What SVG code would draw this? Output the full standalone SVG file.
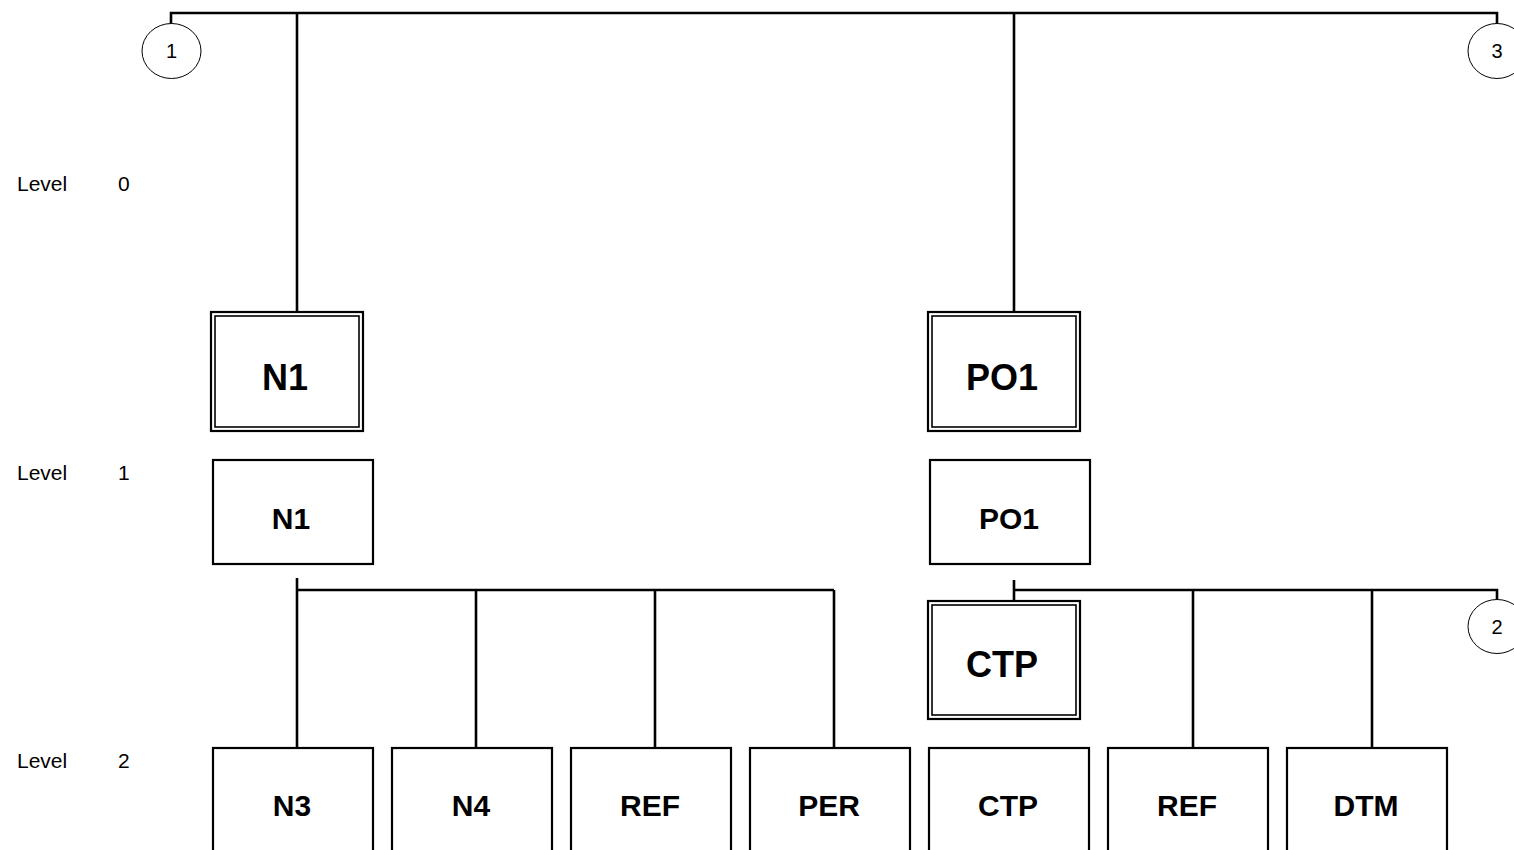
<svg xmlns="http://www.w3.org/2000/svg" width="1514" height="850" viewBox="0 0 1514 850">
<style>
.bg{fill:#fff}
.ln{stroke:#000;stroke-width:2.6;fill:none}
.box{fill:#fff;stroke:#000;stroke-width:2.2}
.inner{fill:none;stroke:#000;stroke-width:1.6}
.circ{fill:#fff;stroke:#000;stroke-width:1}
.big{font-family:"Liberation Sans",Arial,sans-serif;font-weight:bold;font-size:36px;text-anchor:middle;fill:#000}
.mid{font-family:"Liberation Sans",Arial,sans-serif;font-weight:bold;font-size:30px;text-anchor:middle;fill:#000}
.lbl{font-family:"Liberation Sans",Arial,sans-serif;font-size:21px;fill:#000}
.num{font-family:"Liberation Sans",Arial,sans-serif;font-size:20px;text-anchor:middle;fill:#000}
</style>
<rect class="bg" x="0" y="0" width="1514" height="850"/>
<g id="connectors">
  <path class="ln" d="M171,24 V13 H1497 V24"/>
  <path class="ln" d="M297,13 V312"/>
  <path class="ln" d="M1014,13 V312"/>
  <path class="ln" d="M297,578 V748 M297,590 H834 M476,590 V748 M655,590 V748 M834,590 V748"/>
  <path class="ln" d="M1014,580 V601 M1014,590 H1497 V600 M1193,590 V748 M1372,590 V748"/>
</g>
<g id="levels">
  <text class="lbl" x="17" y="191">Level</text><text class="lbl" x="118" y="191">0</text>
  <text class="lbl" x="17" y="480">Level</text><text class="lbl" x="118" y="480">1</text>
  <text class="lbl" x="17" y="768">Level</text><text class="lbl" x="118" y="768">2</text>
</g>
<g id="c1"><ellipse class="circ" cx="171.5" cy="51" rx="29.5" ry="27.5"/><text class="num" x="171.5" y="58">1</text></g>
<g id="c3"><ellipse class="circ" cx="1497" cy="51" rx="29" ry="27.5"/><text class="num" x="1497" y="58">3</text></g>
<g id="c2"><ellipse class="circ" cx="1497" cy="626.5" rx="29" ry="27"/><text class="num" x="1497" y="634">2</text></g>
<g id="n1-0">
  <rect class="box" x="211" y="312" width="152" height="119"/>
  <rect class="inner" x="215" y="316" width="144" height="111"/>
  <text class="big" x="285" y="390">N1</text>
</g>
<g id="po1-0">
  <rect class="box" x="928" y="312" width="152" height="119"/>
  <rect class="inner" x="932" y="316" width="144" height="111"/>
  <text class="big" x="1002" y="390">PO1</text>
</g>
<g id="n1-1">
  <rect class="box" x="213" y="460" width="160" height="104"/>
  <text class="mid" x="291" y="529">N1</text>
</g>
<g id="po1-1">
  <rect class="box" x="930" y="460" width="160" height="104"/>
  <text class="mid" x="1009" y="529">PO1</text>
</g>
<g id="ctp-d">
  <rect class="box" x="928" y="601" width="152" height="118"/>
  <rect class="inner" x="932" y="605" width="144" height="110"/>
  <text class="big" x="1002" y="677">CTP</text>
</g>
<g id="n3"><rect class="box" x="213" y="748" width="160" height="110"/><text class="mid" x="292" y="816">N3</text></g>
<g id="n4"><rect class="box" x="392" y="748" width="160" height="110"/><text class="mid" x="471" y="816">N4</text></g>
<g id="ref1"><rect class="box" x="571" y="748" width="160" height="110"/><text class="mid" x="650" y="816">REF</text></g>
<g id="per"><rect class="box" x="750" y="748" width="160" height="110"/><text class="mid" x="829" y="816">PER</text></g>
<g id="ctp"><rect class="box" x="929" y="748" width="160" height="110"/><text class="mid" x="1008" y="816">CTP</text></g>
<g id="ref2"><rect class="box" x="1108" y="748" width="160" height="110"/><text class="mid" x="1187" y="816">REF</text></g>
<g id="dtm"><rect class="box" x="1287" y="748" width="160" height="110"/><text class="mid" x="1366" y="816">DTM</text></g>
</svg>
